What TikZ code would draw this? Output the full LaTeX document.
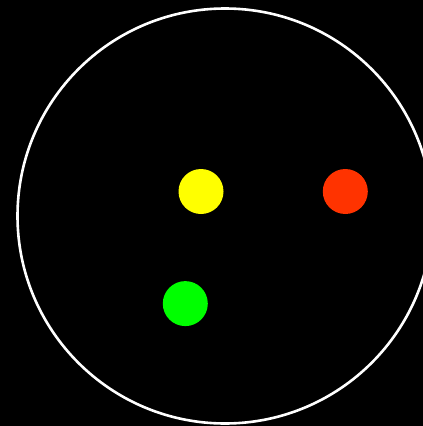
\documentclass[tikz,border=0pt]{standalone}
\usepackage{xcolor}
\definecolor{rimline}{HTML}{FFFFFF}
\definecolor{sunny}{HTML}{FFFF00}
\definecolor{flame}{HTML}{FF3300}
\definecolor{lime}{HTML}{00FF00}

\begin{document}
\begin{tikzpicture}[
  x=1pt,y=-1pt,
  rim/.style={circle,draw=rimline,line width=2.6pt,minimum size=415pt,inner sep=0pt},
  dot/.style={circle,minimum size=45pt,inner sep=0pt}
]
\fill[black] (0,0) rectangle (423,426);
\useasboundingbox (0,0) rectangle (423,426);
\clip (0,0) rectangle (423,426);
\node[rim] (disc) at (225,216) {};
\node[dot,fill=sunny] (yel) at (201,191.5) {};
\node[dot,fill=flame] (red) at (345.3,191.5) {};
\node[dot,fill=lime] (grn) at (185.3,303.6) {};
\end{tikzpicture}
\end{document}
